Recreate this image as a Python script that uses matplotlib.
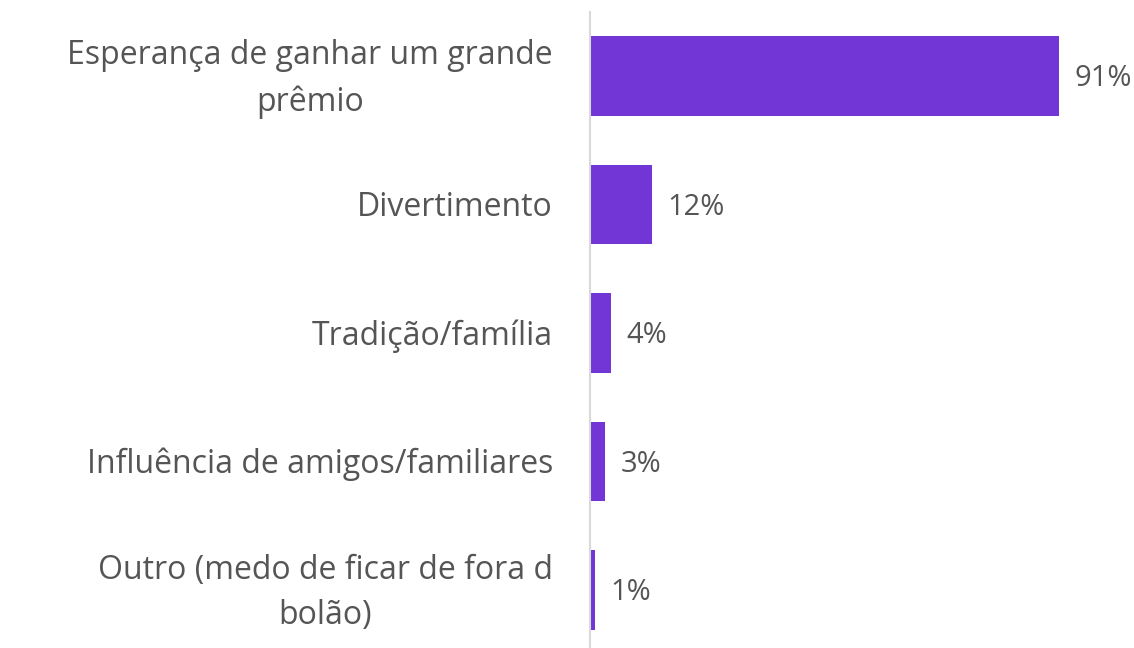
import matplotlib.pyplot as plt
from matplotlib.transforms import offset_copy

categories = [
    "Esperança de ganhar um grande\nprêmio",
    "Divertimento",
    "Tradição/família",
    "Influência de amigos/familiares",
    "Outro (medo de ficar de fora d\nbolão)",
]
values = [91, 12, 4, 3, 1]
value_labels = ["91%", "12%", "4%", "3%", "1%"]

bar_color = "#7236D6"
text_color = "#555555"

plt.rcParams["font.family"] = ["Open Sans", "DejaVu Sans"]

fig = plt.figure(figsize=(11.34, 6.48), dpi=100)
ax = fig.add_axes([590 / 1134, 0.0, 541 / 1134, 1 - 12 / 648])

pos = list(range(len(categories)))
ax.barh(pos, values, height=0.62, color=bar_color)

for p, v, lab in zip(pos, values, value_labels):
    ax.annotate(lab, (v, p), xytext=(11, -2), textcoords="offset points",
                ha="left", va="center", fontsize=21, color=text_color)

# category labels drawn by hand so two-line labels sit centred on the bar
trans = offset_copy(ax.get_yaxis_transform(), fig=fig, x=-37, y=-3, units="dots")
for p, cat in zip(pos, categories):
    ax.text(0, p, cat, transform=trans, ha="right", va="center",
            multialignment="center", linespacing=1.5,
            fontsize=23, color=text_color)

ax.set_xlim(0, 105)
ax.set_ylim(4.451, -0.498)
ax.set_yticks([])
ax.set_xticks([])

for s in ["top", "right", "bottom"]:
    ax.spines[s].set_visible(False)
ax.spines["left"].set_color("#d9d9d9")
ax.spines["left"].set_linewidth(1.5)

fig.savefig("out.png", dpi=100)
